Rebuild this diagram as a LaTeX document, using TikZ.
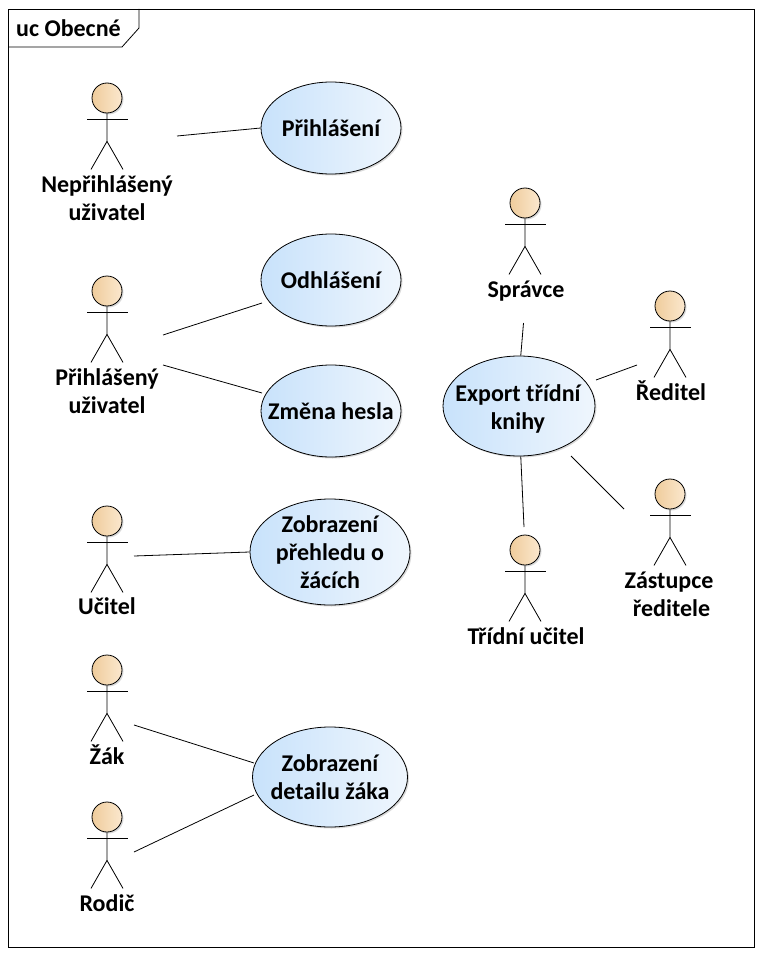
\documentclass[tikz,border=0pt]{standalone}
\usepackage{fontspec}
\setmainfont{Carlito}
\usetikzlibrary{shapes.geometric,shadows}
\definecolor{ucleft}{HTML}{C8E2FB}
\definecolor{ucright}{HTML}{EFF6FD}
\definecolor{headleft}{HTML}{EFCC9C}
\definecolor{headright}{HTML}{FBE8CE}
\tikzset{
  x=1pt,y=-1pt,
  lbl/.style={inner sep=0pt,align=center,font=\fontsize{24}{28}\selectfont\bfseries,text=black},
  usecase/.style={ellipse,draw=black,line width=.8pt,left color=ucleft,right color=ucright,inner sep=0pt,
    drop shadow={shadow xshift=1.5pt,shadow yshift=-1.5pt,opacity=.15,fill=black}},
  head/.style={circle,draw=black,line width=.8pt,left color=headleft,right color=headright,inner sep=0pt,minimum size=30pt,
    drop shadow={shadow xshift=1.5pt,shadow yshift=-1.5pt,opacity=.15,fill=black}},
  limb/.style={draw=black,line width=.8pt},
  assoc/.style={draw=black,line width=.8pt},
}
\newcommand{\stickman}[3]{% name, x, y of head centre
  \node[head] (#1) at (#2,#3) {};
  \draw[limb] (#1.south) -- ++(0,28) coordinate (#1hip) -- ++(-16,28);
  \draw[limb] (#1hip) -- ++(16,28);
  \draw[limb] (#1.south) ++(-20,6) -- ++(41,0);
}
\begin{document}
\begin{tikzpicture}
\useasboundingbox (0,0) rectangle (762,955);
\fill[white] (0,0) rectangle (762,955);
\coordinate (fa) at (8,9);
\coordinate (fb) at (754,947);
\draw[line width=.8pt] (fa) rectangle (fb);
\draw[line width=.8pt] (8,47) -- (122,47) -- (139,28) -- (139,9);
\node[lbl,anchor=west] (title) at (16,28) {uc Obecné};

\stickman{a1}{107}{98}
\stickman{a2}{107}{291}
\stickman{a3}{107}{521}
\stickman{a4}{107}{670}
\stickman{a5}{107}{817}
\stickman{a6}{525}{203}
\stickman{a7}{670}{306}
\stickman{a8}{670}{494}
\stickman{a9}{525}{550}

\node[lbl] (l1) at (107,198) {Nepřihlášený\\uživatel};
\node[lbl] (l2) at (107,391) {Přihlášený\\uživatel};
\node[lbl] (l3) at (107,606) {Učitel};
\node[lbl] (l4) at (107,755) {Žák};
\node[lbl] (l5) at (107,903) {Rodič};
\node[lbl] (l6) at (526,291) {Správce};
\node[lbl] (l7) at (671,391) {Ředitel};
\node[lbl] (l8) at (669,594) {Zástupce\\\hspace*{5pt}ředitele};
\node[lbl] (l9) at (526,636) {Třídní učitel};

\node[usecase,minimum width=140pt,minimum height=92pt] (u1) at (331,128) {};
\node[usecase,minimum width=140pt,minimum height=92pt] (u2) at (331,280) {};
\node[usecase,minimum width=140pt,minimum height=92pt] (u3) at (331,411) {};
\node[usecase,minimum width=160pt,minimum height=106pt] (u4) at (330,552) {};
\node[usecase,minimum width=155pt,minimum height=100pt] (u5) at (330,777) {};
\node[usecase,minimum width=152pt,minimum height=100pt] (u6) at (519,406) {};

\node[lbl] (t1) at (u1) {Přihlášení};
\node[lbl] (t2) at (u2) {Odhlášení};
\node[lbl] (t3) at (u3) {Změna hesla};
\node[lbl] (t4) at (u4) {Zobrazení\\přehledu o\\žácích};
\node[lbl] (t5) at (u5) {Zobrazení\\detailu žáka};
\node[lbl] (t6) at (518,409) {Export třídní\\knihy};

\coordinate (c1) at (177,136);
\coordinate (c2) at (163,335);
\coordinate (c3) at (163,365);
\coordinate (c4) at (134,556);
\coordinate (c5) at (134,725);
\coordinate (c6) at (134,852);
\coordinate (c7) at (523.5,323);
\coordinate (c8) at (637,365);
\coordinate (c9) at (624,509);
\coordinate (c10) at (524,527);
\coordinate (d2) at (262,303);
\coordinate (d3) at (262,393);
\coordinate (d5) at (254,763);
\coordinate (d6) at (254,795);
\coordinate (d8) at (596,380);
\coordinate (d9) at (571,456);

\draw[assoc] (c1) -- (u1.180);
\draw[assoc] (c2) -- (d2);
\draw[assoc] (c3) -- (d3);
\draw[assoc] (c4) -- (u4.180);
\draw[assoc] (c5) -- (d5);
\draw[assoc] (c6) -- (d6);
\draw[assoc] (c7) -- (u6.88);
\draw[assoc] (c8) -- (d8);
\draw[assoc] (c9) -- (d9);
\draw[assoc] (c10) -- (u6.272);
\end{tikzpicture}
\end{document}
